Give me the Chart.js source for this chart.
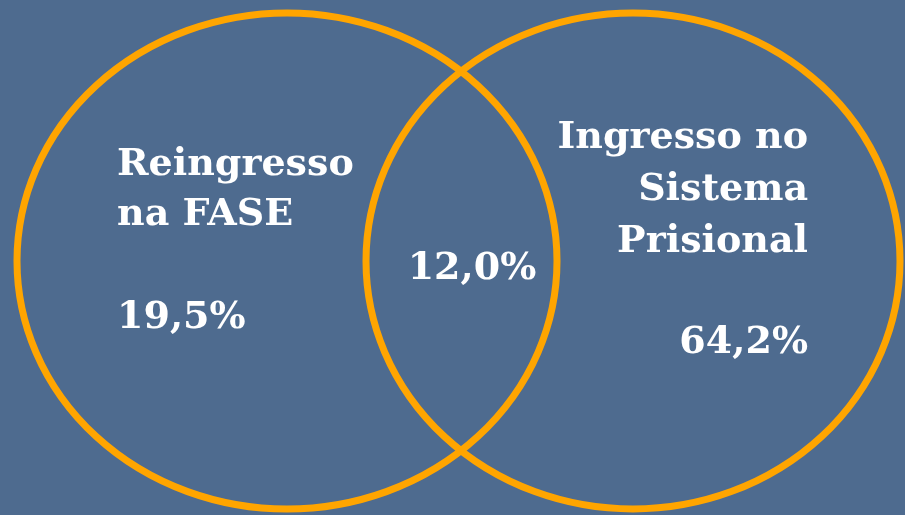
<!DOCTYPE html>
<html>
<head>
<meta charset="utf-8">
<script src="https://cdn.jsdelivr.net/npm/chart.js@4/dist/chart.umd.min.js"></script>
<style>
  html, body { margin: 0; padding: 0; background: #4e6b8f; }
  #wrap { width: 905px; height: 515px; }
</style>
</head>
<body>
<div id="wrap"><canvas id="venn" width="905" height="515"></canvas></div>
<script>
// conjuntos do diagrama
const setLabels = [['Reingresso', 'na FASE'], ['Ingresso no', 'Sistema', 'Prisional']];
const setOnlyValues = [19.5, 64.2];
const overlapValue = 12.0;

// geometria (unidades da escala = pixels)
const centersX = [287, 633];
const centersY = [261, 261];
const radiiX = [270, 267];
const radiiY = [248, 248];

const BG = '#4e6b8f';
const ORANGE = '#ffa500';
const FONT = '"DejaVu Serif", serif';

function pct(v) {
    return v.toFixed(1).replace('.', ',') + '%';
}

const vennPlugin = {
    id: 'venn',
    beforeDraw(chart) {
        const c = chart.ctx;
        c.save();
        c.fillStyle = BG;
        c.fillRect(0, 0, chart.width, chart.height);
        c.restore();
    },
    afterDatasetsDraw(chart) {
        const c = chart.ctx;
        const xs = chart.scales.x, ys = chart.scales.y;
        const meta = chart.getDatasetMeta(0);

        // contornos dos conjuntos
        c.save();
        c.strokeStyle = ORANGE;
        c.lineWidth = 7;
        meta.data.forEach((pt, i) => {
            const rx = Math.abs(xs.getPixelForValue(centersX[i] + radiiX[i]) - pt.x);
            const ry = Math.abs(ys.getPixelForValue(centersY[i] + radiiY[i]) - pt.y);
            c.beginPath();
            c.ellipse(pt.x, pt.y, rx, ry, 0, 0, Math.PI * 2);
            c.stroke();
        });

        // textos
        c.fillStyle = '#ffffff';
        c.textBaseline = 'alphabetic';
        const labelFont = 'bold 38px ' + FONT;
        const valueFont = 'bold 38px ' + FONT;

        // esquerda
        c.textAlign = 'left';
        c.font = labelFont;
        setLabels[0].forEach((t, i) => {
            c.fillText(t, xs.getPixelForValue(117), ys.getPixelForValue(175 + i * 50));
        });
        c.font = valueFont;
        c.fillText(pct(setOnlyValues[0]), xs.getPixelForValue(117), ys.getPixelForValue(328));

        // direita
        c.textAlign = 'right';
        c.font = labelFont;
        setLabels[1].forEach((t, i) => {
            c.fillText(t, xs.getPixelForValue(808), ys.getPixelForValue(148 + i * 52));
        });
        c.font = valueFont;
        c.fillText(pct(setOnlyValues[1]), xs.getPixelForValue(808), ys.getPixelForValue(353));

        // intersecao
        c.textAlign = 'center';
        c.fillText(pct(overlapValue), xs.getPixelForValue(472), ys.getPixelForValue(279));
        c.restore();
    }
};

new Chart(document.getElementById('venn'), {
    type: 'scatter',
    data: {
        datasets: [{
            data: centersX.map((x, i) => ({ x: x, y: centersY[i] })),
            pointRadius: 0,
            pointHoverRadius: 0
        }]
    },
    options: {
        responsive: false,
        animation: false,
        events: [],
        layout: { padding: 0 },
        scales: {
            x: { type: 'linear', min: 0, max: 905, display: false },
            y: { type: 'linear', min: 0, max: 515, reverse: true, display: false }
        },
        plugins: {
            legend: { display: false },
            tooltip: { enabled: false }
        }
    },
    plugins: [vennPlugin]
});
</script>
</body>
</html>
